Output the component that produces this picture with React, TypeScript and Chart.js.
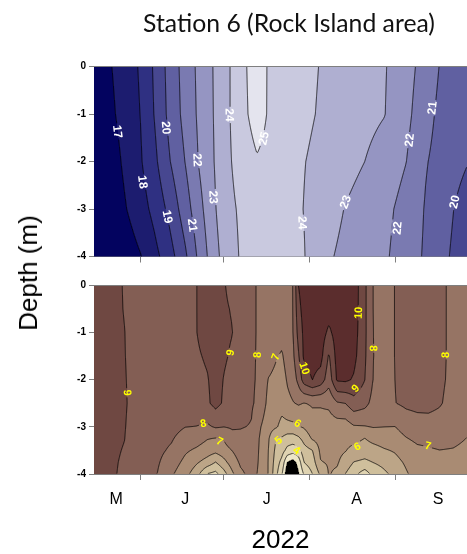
import React, { useEffect, useRef } from "react";
import { Chart, registerables } from "chart.js";

Chart.register(...registerables);

// ---------------- text ----------------
const chartTitle = "Station 6 (Rock Island area)";
const yAxisTitle = "Depth (m)";
const xAxisTitle = "2022";

// ---------------- axes ----------------
const monthBoundaries = [152, 182, 213, 244]; // day of year: Jun 1, Jul 1, Aug 1, Sep 1
const monthLabelDays = [143, 168, 197.5, 230, 259.5];
const monthLetters = ["M", "J", "J", "A", "S"];
const depthTicks = [0, -1, -2, -3, -4];

// ---------------- upper panel (temperature, °C) ----------------
const tempDays = [135, 141, 146, 152, 157, 162, 168, 173, 179, 184, 190, 194, 198, 204, 211, 219, 226, 233, 240, 248, 255, 262, 270];
const tempDepths = [0, -1, -2, -3, -4];
const temp_0m = [16.4, 16.95, 17.46, 18.13, 19.17, 20.28, 21.42, 22.22, 23.15, 23.96, 24.96, 25.5, 24.94, 24.62, 24.25, 23.87, 23.6, 23.34, 23.08, 22.39, 21.57, 20.75, 20.3];
const temp_1m = [16.2, 16.8, 17.36, 18.04, 19.07, 20.19, 21.33, 22.17, 23.13, 23.96, 24.91, 25.4, 24.94, 24.59, 24.19, 23.82, 23.56, 23.3, 23.04, 22.26, 21.34, 20.6, 20.15];
const temp_2m = [16.0, 16.5, 17.16, 17.93, 18.79, 19.88, 21.02, 22.06, 23.09, 23.91, 24.6, 24.92, 24.75, 24.4, 24.03, 23.66, 23.33, 23.0, 22.55, 22.01, 21.07, 20.55, 20.05];
const temp_3m = [15.8, 16.3, 16.9, 17.6, 18.3, 19.2, 20.52, 21.67, 22.97, 23.79, 24.3, 24.5, 24.6, 24.4, 23.98, 23.42, 22.96, 22.6, 22.25, 21.68, 20.93, 20.3, 19.55];
const temp_4m = [15.5, 15.9, 16.4, 16.97, 17.72, 18.5, 19.82, 21.23, 22.76, 23.61, 24.3, 24.5, 24.55, 24.4, 24.04, 23.16, 22.76, 22.45, 22.14, 21.54, 20.86, 20.15, 19.4];
const tempLevels = [17, 18, 19, 20, 21, 22, 23, 24, 25];
const tempColors = ["#03035F", "#1C1C6F", "#2F3082", "#474790", "#6060A1", "#7A7AB1", "#9595C2", "#AFAFD1", "#C9C9DF", "#E4E4EE"];
const tempLabelDays = [143.7, 152.8, 161.8, 161.3, 170.8, 172.6, 178.4, 184.2, 196.3, 210.6, 225.8, 249, 244.6, 257.2, 265.3];
const tempLabelDepths = [-1.37, -2.43, -3.16, -1.29, -3.34, -1.97, -2.75, -1.02, -1.51, -3.29, -2.85, -1.55, -3.4, -0.87, -2.85];
const tempLabelTexts = ["17", "18", "19", "20", "21", "22", "23", "24", "25", "24", "23", "22", "22", "21", "20"];

// ---------------- lower panel (mg/L) ----------------
const doDays = [135, 140, 146, 152, 158, 163, 168, 172, 176, 179, 182, 185, 188, 192, 195, 198, 201, 203, 205, 207, 209, 211, 214, 217, 220, 223, 226, 229, 233, 236, 240, 244, 248, 252, 256, 260, 265, 270];
const doDepths = [0, -0.5, -1, -1.5, -2, -2.5, -3, -3.25, -3.5, -3.75, -4];
const do_00 = [9.4, 9.2, 8.97, 8.7, 8.55, 8.6, 8.8, 8.98, 9.35, 9.4, 9.05, 8.8, 8.5, 8.12, 7.9, 7.7, 7.6, 7.65, 7.85, 7.98, 10.02, 10.5, 10.6, 10.6, 10.5, 10.5, 10.5, 10.6, 9.2, 7.98, 7.7, 8.02, 8.3, 8.45, 8.45, 8.2, 7.8, 7.6];
const do_05 = [9.4, 9.2, 8.98, 8.7, 8.55, 8.6, 8.8, 8.98, 9.35, 9.4, 9.1, 8.95, 8.55, 8.12, 7.9, 7.7, 7.6, 7.6, 7.85, 7.97, 9.7, 10.4, 10.6, 10.6, 10.45, 10.5, 10.5, 10.55, 9.2, 7.98, 7.7, 8.02, 8.3, 8.45, 8.45, 8.2, 7.8, 7.6];
const do_10 = [9.4, 9.2, 9.01, 8.7, 8.55, 8.6, 8.8, 8.98, 9.3, 9.4, 9.15, 9.02, 8.6, 8.12, 7.9, 7.65, 7.5, 7.3, 7.75, 7.95, 9.35, 10.25, 10.55, 10.5, 9.8, 10.45, 10.5, 10.45, 9.2, 8.01, 7.7, 8.02, 8.3, 8.45, 8.45, 8.2, 7.8, 7.6];
const do_15 = [9.4, 9.22, 9.02, 8.7, 8.55, 8.6, 8.75, 8.9, 9.1, 9.35, 9.1, 8.9, 8.6, 8.12, 7.88, 7.35, 7.05, 6.9, 7.4, 7.8, 8.9, 10.2, 10.4, 10.35, 8.9, 10.4, 10.45, 10.3, 9.15, 8.02, 7.7, 8.02, 8.3, 8.45, 8.45, 8.2, 7.8, 7.6];
const do_20 = [9.4, 9.25, 9.04, 8.7, 8.55, 8.6, 8.7, 8.78, 8.95, 9.3, 8.97, 8.75, 8.55, 8.12, 7.85, 6.98, 6.8, 6.6, 7.1, 7.45, 8.3, 9.5, 10.02, 9.6, 8.4, 10.15, 10.2, 9.9, 9.02, 7.98, 7.65, 8.01, 8.25, 8.4, 8.4, 8.2, 7.75, 7.55];
const do_25 = [9.35, 9.25, 9.06, 8.7, 8.5, 8.55, 8.55, 8.7, 8.85, 9.3, 8.88, 8.65, 8.45, 8.1, 7.75, 6.75, 6.55, 6.35, 6.75, 6.95, 7.1, 6.98, 7.1, 7.1, 7.2, 7.9, 8.02, 8.6, 8.3, 7.7, 7.5, 7.98, 8.2, 8.3, 8.3, 8.1, 7.65, 7.45];
const do_30 = [9.3, 9.2, 9.03, 8.65, 8.42, 8.35, 8.02, 7.98, 7.85, 8.1, 8.02, 8.1, 8.05, 7.95, 7.1, 6.4, 6.1, 5.7, 5.7, 5.75, 5.95, 6.1, 6.6, 6.6, 6.5, 6.5, 6.5, 6.9, 6.95, 7.05, 7.01, 6.99, 7.4, 7.55, 7.6, 7.55, 7.45, 7.2];
const do_325 = [9.3, 9.15, 9.01, 8.6, 8.32, 8.1, 7.55, 7.45, 7.05, 6.95, 7.1, 7.7, 7.8, 7.7, 6.95, 6.15, 4.98, 4.9, 4.55, 4.5, 4.8, 5.35, 6.1, 6.4, 6.3, 6.4, 6.3, 6.3, 5.98, 6.3, 6.5, 6.6, 6.95, 7.2, 7.25, 7.3, 7.2, 6.98];
const do_35 = [9.25, 9.13, 8.97, 8.55, 8.22, 7.85, 7.15, 6.85, 6.5, 6.3, 6.6, 7.02, 7.5, 7.5, 6.92, 6.05, 4.7, 4.4, 3.7, 3.45, 3.7, 4.6, 4.98, 6.2, 6.15, 6.25, 6.05, 5.7, 5.5, 5.6, 5.9, 6.1, 6.5, 6.8, 6.9, 6.99, 6.95, 6.8];
const do_375 = [9.2, 9.12, 8.93, 8.5, 8.1, 7.5, 6.75, 6.15, 5.6, 4.98, 5.7, 6.5, 7.15, 7.4, 6.9, 6.02, 4.45, 3.7, 1.98, 1.6, 2.4, 4.02, 4.5, 5.95, 6.1, 6.1, 5.6, 4.98, 4.8, 5.02, 5.3, 5.7, 6.15, 6.55, 6.6, 6.7, 6.8, 6.7];
const do_40 = [9.2, 9.12, 8.9, 8.45, 7.98, 7.15, 6.35, 5.45, 3.95, 3.7, 4.6, 5.8, 6.8, 7.3, 6.85, 6.02, 4.2, 3.1, 1.2, 0.8, 1.9, 3.1, 3.98, 5.2, 6.05, 5.85, 4.98, 4.3, 3.5, 4.3, 4.8, 5.3, 5.9, 6.4, 6.45, 6.55, 6.7, 6.65];
const doLevels = [2, 3, 4, 5, 6, 7, 8, 9, 10];
const doColors = ["#000000", "#EDE6C8", "#DFD3B1", "#CFBF9C", "#BCA587", "#A98B73", "#967464", "#835E54", "#6F4842", "#5B2D2D"];
const doLabelDays = [147.3, 184.2, 193.9, 174.5, 180.6, 200.5, 211.4, 230.5, 229.5, 236.3, 262, 208.8, 201.6, 208.5, 230.2, 255.9];
const doLabelDepths = [-2.28, -1.43, -1.48, -2.92, -3.3, -1.52, -1.76, -0.59, -2.18, -1.34, -1.48, -2.92, -3.28, -3.49, -3.41, -3.39];
const doLabelTexts = ["9", "9", "8", "8", "7", "7", "10", "10", "9", "8", "8", "6", "5", "4", "6", "7"];

// ---------------- helpers ----------------
const SANS = '"Liberation Sans", Arial, sans-serif';
const GRAY = "#7f7f7f";

type FieldCfg = {
  name: string;
  xs: number[];
  ys: number[];
  rows: number[][];
  levels: number[];
  colors: string[];
  labelDays: number[];
  labelDepths: number[];
  labelTexts: string[];
  labelColor: string;
  labelSize: number;
};

function valueAt(f: FieldCfg, x: number, y: number): number {
  const { xs, ys, rows } = f;
  let i = 0;
  while (i < xs.length - 2 && x > xs[i + 1]) i++;
  let j = 0;
  while (j < ys.length - 2 && y < ys[j + 1]) j++;
  const tx = Math.min(1, Math.max(0, (x - xs[i]) / (xs[i + 1] - xs[i])));
  const ty = Math.min(1, Math.max(0, (y - ys[j]) / (ys[j + 1] - ys[j])));
  const a = rows[j][i], b = rows[j][i + 1], c = rows[j + 1][i], d = rows[j + 1][i + 1];
  return a * (1 - tx) * (1 - ty) + b * tx * (1 - ty) + c * (1 - tx) * ty + d * tx * ty;
}

function hexToRgb(h: string): number[] {
  const n = parseInt(h.slice(1), 16);
  return [(n >> 16) & 255, (n >> 8) & 255, n & 255];
}

function makeContourPlugin(cfg: FieldCfg) {
  return {
    id: "contour-" + cfg.name,
    beforeDatasetsDraw(chart: any) {
      const ctx: CanvasRenderingContext2D = chart.ctx;
      const ca = chart.chartArea;
      const xS = chart.scales.x;
      const yS = chart.scales.y;
      const left0 = Math.floor(ca.left);
      const top0 = Math.floor(ca.top);
      const W = Math.ceil(ca.right) - left0;
      const H = Math.ceil(ca.bottom) - top0;
      const F = new Float32Array(W * H);
      const colX: number[] = [];
      for (let i = 0; i < W; i++) colX.push(xS.getValueForPixel(left0 + i + 0.5));
      for (let j = 0; j < H; j++) {
        const yv = yS.getValueForPixel(top0 + j + 0.5);
        for (let i = 0; i < W; i++) F[j * W + i] = valueAt(cfg, colX[i], yv);
      }
      // filled bands
      const off = document.createElement("canvas");
      off.width = W;
      off.height = H;
      const octx = off.getContext("2d")!;
      const img = octx.createImageData(W, H);
      const rgb = cfg.colors.map(hexToRgb);
      const L = cfg.levels;
      for (let k = 0; k < W * H; k++) {
        const v = F[k];
        let band = 0;
        while (band < L.length && v >= L[band]) band++;
        const c = rgb[band];
        img.data[k * 4] = c[0];
        img.data[k * 4 + 1] = c[1];
        img.data[k * 4 + 2] = c[2];
        img.data[k * 4 + 3] = 255;
      }
      octx.putImageData(img, 0, 0);
      ctx.save();
      ctx.beginPath();
      ctx.rect(ca.left, ca.top, ca.right - ca.left, ca.bottom - ca.top);
      ctx.clip();
      ctx.drawImage(off, left0, top0);
      ctx.restore();

      // labels geometry
      const fontStr = `bold ${cfg.labelSize}px ${SANS}`;
      ctx.font = fontStr;
      const labels = cfg.labelTexts.map((t, k) => {
        const px = xS.getPixelForValue(cfg.labelDays[k]);
        const py = yS.getPixelForValue(cfg.labelDepths[k]);
        const vAt = (qx: number, qy: number) => valueAt(cfg, xS.getValueForPixel(qx), yS.getValueForPixel(qy));
        const gx = vAt(px + 2, py) - vAt(px - 2, py);
        const gy = vAt(px, py + 2) - vAt(px, py - 2);
        let ang = Math.atan2(gx, -gy);
        if (ang > Math.PI / 2) ang -= Math.PI;
        if (ang <= -Math.PI / 2) ang += Math.PI;
        const hw = ctx.measureText(t).width / 2 + 1.5;
        const hh = cfg.labelSize * 0.45;
        return { t, px, py, ang, hw, hh };
      });

      // contour lines (marching squares), broken under labels
      ctx.save();
      ctx.beginPath();
      ctx.rect(ca.left, ca.top, ca.right - ca.left, ca.bottom - ca.top);
      for (const lb of labels) {
        const cs = Math.cos(lb.ang), sn = Math.sin(lb.ang);
        const pts = [[-lb.hw, -lb.hh], [lb.hw, -lb.hh], [lb.hw, lb.hh], [-lb.hw, lb.hh]].map(([u, v]) => [lb.px + u * cs - v * sn, lb.py + u * sn + v * cs]);
        ctx.moveTo(pts[0][0], pts[0][1]);
        for (let q = 1; q < 4; q++) ctx.lineTo(pts[q][0], pts[q][1]);
        ctx.closePath();
      }
      ctx.clip("evenodd");
      ctx.beginPath();
      for (const lev of L) {
        for (let j = 0; j < H - 1; j++) {
          for (let i = 0; i < W - 1; i++) {
            const a = F[j * W + i], b = F[j * W + i + 1], c = F[(j + 1) * W + i + 1], d = F[(j + 1) * W + i];
            const x0 = left0 + i + 0.5, y0 = top0 + j + 0.5;
            const p: number[] = [];
            if ((a >= lev) !== (b >= lev)) p.push(x0 + (lev - a) / (b - a), y0);
            if ((b >= lev) !== (c >= lev)) p.push(x0 + 1, y0 + (lev - b) / (c - b));
            if ((c >= lev) !== (d >= lev)) p.push(x0 + 1 - (lev - c) / (d - c), y0 + 1);
            if ((d >= lev) !== (a >= lev)) p.push(x0, y0 + 1 - (lev - d) / (a - d));
            if (p.length >= 4) {
              ctx.moveTo(p[0], p[1]);
              ctx.lineTo(p[2], p[3]);
            }
            if (p.length === 8) {
              ctx.moveTo(p[4], p[5]);
              ctx.lineTo(p[6], p[7]);
            }
          }
        }
      }
      ctx.lineWidth = 0.9;
      ctx.strokeStyle = "rgba(0,0,0,0.85)";
      ctx.stroke();
      ctx.restore();

      // contour labels
      ctx.save();
      ctx.font = fontStr;
      ctx.fillStyle = cfg.labelColor;
      ctx.textAlign = "center";
      ctx.textBaseline = "middle";
      for (const lb of labels) {
        ctx.save();
        ctx.translate(lb.px, lb.py);
        ctx.rotate(lb.ang);
        ctx.fillText(lb.t, 0, 1);
        ctx.restore();
      }
      ctx.restore();

      // top frame line
      ctx.save();
      ctx.strokeStyle = GRAY;
      ctx.lineWidth = 1;
      ctx.beginPath();
      ctx.moveTo(ca.left, Math.floor(ca.top) + 0.5);
      ctx.lineTo(ca.right, Math.floor(ca.top) + 0.5);
      ctx.stroke();
      ctx.restore();
    },
  };
}

const titlePlugin = {
  id: "pageTitle",
  afterDraw(chart: any) {
    const ctx: CanvasRenderingContext2D = chart.ctx;
    ctx.save();
    ctx.font = "20px Lato";
    const w = ctx.measureText(chartTitle).width;
    const size = (20 * 292) / w;
    ctx.font = `${size}px Lato`;
    ctx.fillStyle = "#111";
    ctx.textAlign = "center";
    ctx.textBaseline = "alphabetic";
    ctx.fillText(chartTitle, 289, 31.5);
    ctx.restore();
  },
};

function yScale() {
  return {
    type: "linear",
    min: -4,
    max: 0,
    z: 1,
    afterBuildTicks: (s: any) => {
      s.ticks = depthTicks.map((v) => ({ value: v }));
    },
    afterFit: (s: any) => {
      s.width = 94;
    },
    ticks: { font: { family: SANS, size: 10, weight: "bold" }, color: "#000", padding: 3 },
    grid: { drawOnChartArea: false, tickLength: 5, color: GRAY },
    border: { color: GRAY },
  };
}

export default function App() {
  const topRef = useRef<HTMLCanvasElement>(null);
  const botRef = useRef<HTMLCanvasElement>(null);

  useEffect(() => {
    const tempCfg: FieldCfg = {
      name: "temp",
      xs: tempDays,
      ys: tempDepths,
      rows: [temp_0m, temp_1m, temp_2m, temp_3m, temp_4m],
      levels: tempLevels,
      colors: tempColors,
      labelDays: tempLabelDays,
      labelDepths: tempLabelDepths,
      labelTexts: tempLabelTexts,
      labelColor: "#FFFFFF",
      labelSize: 12,
    };
    const doCfg: FieldCfg = {
      name: "do",
      xs: doDays,
      ys: doDepths,
      rows: [do_00, do_05, do_10, do_15, do_20, do_25, do_30, do_325, do_35, do_375, do_40],
      levels: doLevels,
      colors: doColors,
      labelDays: doLabelDays,
      labelDepths: doLabelDepths,
      labelTexts: doLabelTexts,
      labelColor: "#FFFF00",
      labelSize: 11,
    };

    const top = new Chart(topRef.current!, {
      type: "scatter",
      data: { datasets: [] },
      options: {
        animation: false,
        responsive: true,
        maintainAspectRatio: false,
        layout: { padding: { top: 66.5, left: 0, right: 0, bottom: 0 } },
        plugins: { legend: { display: false }, tooltip: { enabled: false } },
        scales: {
          x: {
            type: "linear",
            min: 135,
            max: 270,
            z: 1,
            afterBuildTicks: (s: any) => {
              s.ticks = monthBoundaries.map((v) => ({ value: v }));
            },
            afterFit: (s: any) => {
              s.height = 13.5;
            },
            ticks: { display: false },
            grid: { drawOnChartArea: false, tickLength: 6, color: GRAY },
            border: { color: GRAY },
          },
          y: yScale(),
        },
      } as any,
      plugins: [makeContourPlugin(tempCfg), titlePlugin],
    });

    const bottom = new Chart(botRef.current!, {
      type: "scatter",
      data: { datasets: [] },
      options: {
        animation: false,
        responsive: true,
        maintainAspectRatio: false,
        layout: { padding: { top: 15, left: 0, right: 0, bottom: 0 } },
        plugins: { legend: { display: false }, tooltip: { enabled: false } },
        scales: {
          x: {
            type: "linear",
            min: 135,
            max: 270,
            z: 1,
            afterBuildTicks: (s: any) => {
              s.ticks = [...monthBoundaries, ...monthLabelDays].sort((a, b) => a - b).map((v) => ({ value: v }));
            },
            afterFit: (s: any) => {
              s.height = 80;
            },
            ticks: {
              autoSkip: false,
              maxRotation: 0,
              padding: 10,
              font: { family: SANS, size: 16 },
              color: "#000",
              callback: (v: any) => {
                const k = monthLabelDays.indexOf(Number(v));
                return k >= 0 ? monthLetters[k] : "";
              },
            },
            grid: {
              drawOnChartArea: false,
              tickLength: 6,
              color: GRAY,
              tickColor: (c: any) => (c.tick && monthBoundaries.includes(c.tick.value) ? GRAY : "rgba(0,0,0,0)"),
            },
            border: { color: GRAY },
            title: { display: true, text: xAxisTitle, font: { family: SANS, size: 26, lineHeight: 1 }, padding: 0, color: "#000" },
          },
          y: yScale(),
        },
      } as any,
      plugins: [makeContourPlugin(doCfg)],
    });

    return () => {
      top.destroy();
      bottom.destroy();
    };
  }, []);

  return (
    <div style={{ position: "absolute", left: 0, top: 0, width: 467, height: 554, background: "#fff", overflow: "hidden" }}>
      <div style={{ position: "absolute", left: 0, top: 0, width: 467, height: 270 }}>
        <canvas ref={topRef} />
      </div>
      <div style={{ position: "absolute", left: 0, top: 270, width: 467, height: 284 }}>
        <canvas ref={botRef} />
      </div>
      <div
        style={{
          position: "absolute",
          left: 28,
          top: 273,
          transform: "translate(-50%, -50%) rotate(-90deg)",
          fontFamily: SANS,
          fontSize: 26,
          lineHeight: 1,
          whiteSpace: "nowrap",
          color: "#000",
        }}
      >
        {yAxisTitle}
      </div>
    </div>
  );
}
